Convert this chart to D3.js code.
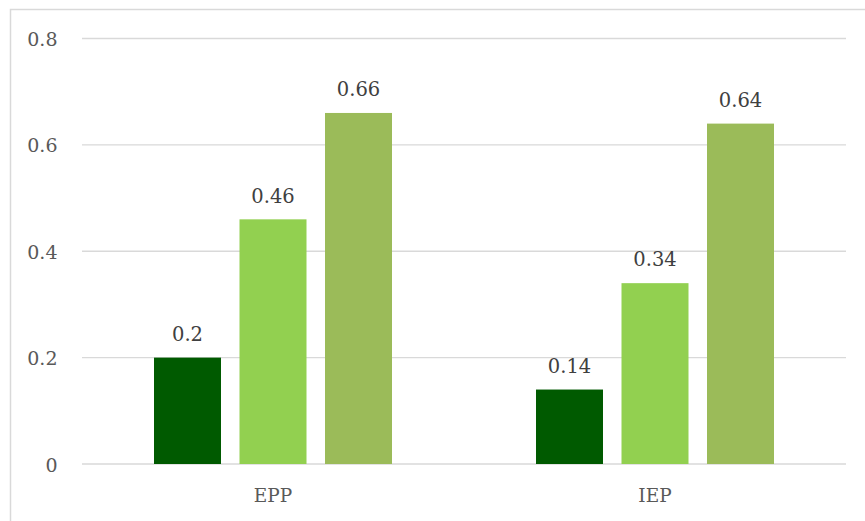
<!DOCTYPE html>
<html><head><meta charset="utf-8">
<script src="https://cdn.jsdelivr.net/npm/d3@7"></script>
<style>body{margin:0;background:#fff}svg{display:block}</style>
</head><body>
<script>
const categories = ["EPP", "IEP"];
const seriesNames = ["S1", "S2", "S3"];
const series1 = [0.2, 0.14];
const series2 = [0.46, 0.34];
const series3 = [0.66, 0.64];
const yTicks = [0, 0.2, 0.4, 0.6, 0.8];
const colors = ["#005A00", "#92D050", "#9BBB59"];

(function(){
const W = 865, H = 521;
const svg = d3.select("body").append("svg").attr("width", W).attr("height", H);
const font = "'DejaVu Serif', serif";
svg.append("rect").attr("x", 10.5).attr("y", 9.5).attr("width", 900).attr("height", 600)
  .attr("fill", "#fff").attr("stroke", "#d9d9d9").attr("stroke-width", 1.5);

const pl = 82, pr = 846, pt = 38.5, pb = 464;
const x = d3.scaleBand().domain(categories).range([pl, pr]).paddingInner(0).paddingOuter(0);
const y = d3.scaleLinear().domain([0, 0.8]).range([pb, pt]);

svg.append("g").selectAll("line").data(yTicks).join("line")
  .attr("x1", pl).attr("x2", pr).attr("y1", d => y(d)).attr("y2", d => y(d))
  .attr("stroke", "#d9d9d9").attr("stroke-width", 1.3);

svg.append("g").selectAll("text").data(yTicks).join("text")
  .attr("x", 57.5).attr("y", d => y(d) + 7.5).attr("text-anchor", "end")
  .attr("font-family", font).attr("font-size", 19).attr("fill", "#595959")
  .text(d => d3.format("")(d));

const data = [series1, series2, series3];
const bw = 67, gap = 18.5;
const groupW = 3*bw + 2*gap;
const x1 = d3.scaleBand().domain(seriesNames).range([0, groupW]).paddingInner(gap/(bw+gap)).paddingOuter(0);

categories.forEach((c, ci) => {
  const g = svg.append("g").attr("transform", `translate(${x(c) + x.bandwidth()/2 - groupW/2},0)`);
  seriesNames.forEach((s, si) => {
    const v = data[si][ci];
    g.append("rect").attr("x", x1(s)).attr("width", x1.bandwidth())
      .attr("y", y(v)).attr("height", y(0) - y(v)).attr("fill", colors[si]);
    g.append("text").attr("x", x1(s) + x1.bandwidth()/2).attr("y", y(v) - 16.7)
      .attr("text-anchor", "middle").attr("font-family", font).attr("font-size", 19.5)
      .attr("fill", "#404040").text(v);
  });
  svg.append("text").attr("x", x(c) + x.bandwidth()/2).attr("y", 501.7)
    .attr("text-anchor", "middle").attr("font-family", font).attr("font-size", 18.5)
    .attr("fill", "#595959").text(c);
});
})();
</script>
</body></html>
